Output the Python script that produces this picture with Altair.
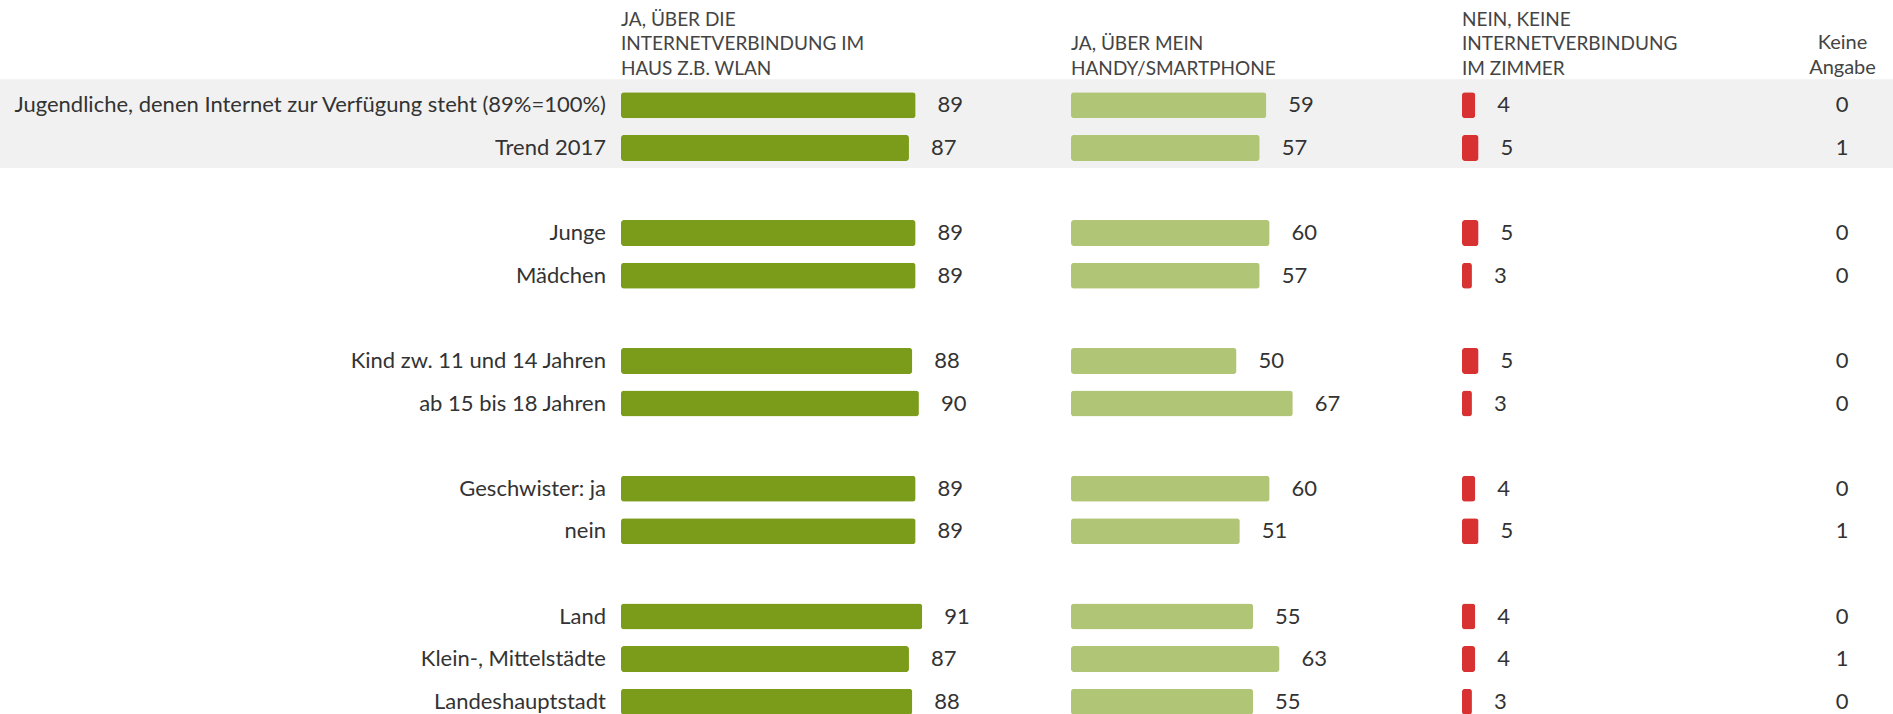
import altair as alt
import pandas as pd

# ---- data ----
labels = [
    "Jugendliche, denen Internet zur Verfügung steht (89%=100%)",
    "Trend 2017",
    "Junge",
    "Mädchen",
    "Kind zw. 11 und 14 Jahren",
    "ab 15 bis 18 Jahren",
    "Geschwister: ja",
    "nein",
    "Land",
    "Klein-, Mittelstädte",
    "Landeshauptstadt",
]
group_sizes = [2, 2, 2, 2, 3]
highlight = ["Jugendliche, denen Internet zur Verfügung steht (89%=100%)", "Trend 2017"]
wlan = [89, 87, 89, 89, 88, 90, 89, 89, 91, 87, 88]
handy = [59, 57, 60, 57, 50, 67, 60, 51, 55, 63, 55]
nein = [4, 5, 5, 3, 5, 3, 4, 5, 4, 4, 3]
keine = [0, 1, 0, 0, 0, 0, 0, 1, 0, 1, 0]

header_wlan = ["JA, ÜBER DIE", "INTERNETVERBINDUNG IM", "HAUS Z.B. WLAN"]
header_handy = ["", "JA, ÜBER MEIN", "HANDY/SMARTPHONE"]
header_nein = ["NEIN, KEINE", "INTERNETVERBINDUNG", "IM ZIMMER"]
header_keine = ["", "Keine", "Angabe"]

# ---- table ----
df = pd.DataFrame({
    "label": labels,
    "wlan": wlan,
    "handy": handy,
    "nein": nein,
    "keine": keine,
})
df["hl"] = df["label"].isin(highlight)

# y domain with blank slots between groups
y_domain = []
i = 0
for g, n in enumerate(group_sizes):
    if g > 0:
        y_domain.append(f"__gap{g}")
    y_domain.extend(labels[i:i + n])
    i += n

# ---- styling ----
FONT = "Lato"
TEXT = "#333333"
HEAD = "#444444"
BG = "#f1f1f1"
K = 3.31            # pixels per percentage point
H = 631             # plot height
STEP_RANGE = 639    # band range
BAR_H = 26
FS = 22
T_OFF = -18.5

yscale = alt.Scale(domain=y_domain, range=[0, STEP_RANGE], paddingInner=0, paddingOuter=0)
Y = alt.Y("label:N", scale=yscale, axis=None)

base = alt.Chart(df)


def bg(width):
    return base.mark_rect(color=BG, height=46, yOffset=-3).encode(
        y=Y, x=alt.value(0), x2=alt.value(width)
    ).transform_filter("datum.hl")


def head(text, anchor, size=19):
    return alt.Title(text=text, anchor=anchor, fontSize=size, font=FONT,
                     fontWeight="normal", color=HEAD, lineHeight=24.5,
                     baseline="bottom", offset=T_OFF)


def bar_panel(field, color, width, header):
    xs = alt.Scale(domain=[0, width / K], nice=False, zero=True)
    bars = base.mark_bar(color=color, height=BAR_H, cornerRadius=3).encode(
        y=Y, x=alt.X(f"{field}:Q", scale=xs, axis=None)
    )
    txt = base.mark_text(align="left", baseline="middle", dx=22, fontSize=FS,
                         font=FONT, color=TEXT).encode(
        y=Y, x=alt.X(f"{field}:Q", scale=xs, axis=None), text=alt.Text(f"{field}:Q")
    )
    return alt.layer(bg(width), bars, txt).properties(
        width=width, height=H, title=head(header, "start")
    )


W0, W1, W2, W3, W4 = 621, 450, 391, 330, 101

p0 = alt.layer(
    bg(W0),
    base.mark_text(align="right", baseline="middle", fontSize=FS, font=FONT,
                   color=TEXT).encode(y=Y, x=alt.value(W0 - 15), text="label:N"),
).properties(width=W0, height=H)

p1 = bar_panel("wlan", "#7a9c1a", W1, header_wlan)
p2 = bar_panel("handy", "#b1c576", W2, header_handy)
p3 = bar_panel("nein", "#d83131", W3, header_nein)

p4 = alt.layer(
    bg(W4),
    base.mark_text(align="center", baseline="middle", fontSize=FS, font=FONT,
                   color=TEXT).encode(y=Y, x=alt.value(50), text="keine:Q"),
).properties(width=W4, height=H, title=head(header_keine, "middle", 20))

chart = alt.hconcat(p0, p1, p2, p3, p4, spacing=0, bounds="flush").resolve_scale(
    x="independent", y="shared"
).properties(
    padding={"left": 0, "right": 0, "top": 8, "bottom": 0}
).configure(font=FONT).configure_view(stroke=None, strokeWidth=0)

chart.save("out.html", embed_options={"renderer": "svg", "actions": False})
